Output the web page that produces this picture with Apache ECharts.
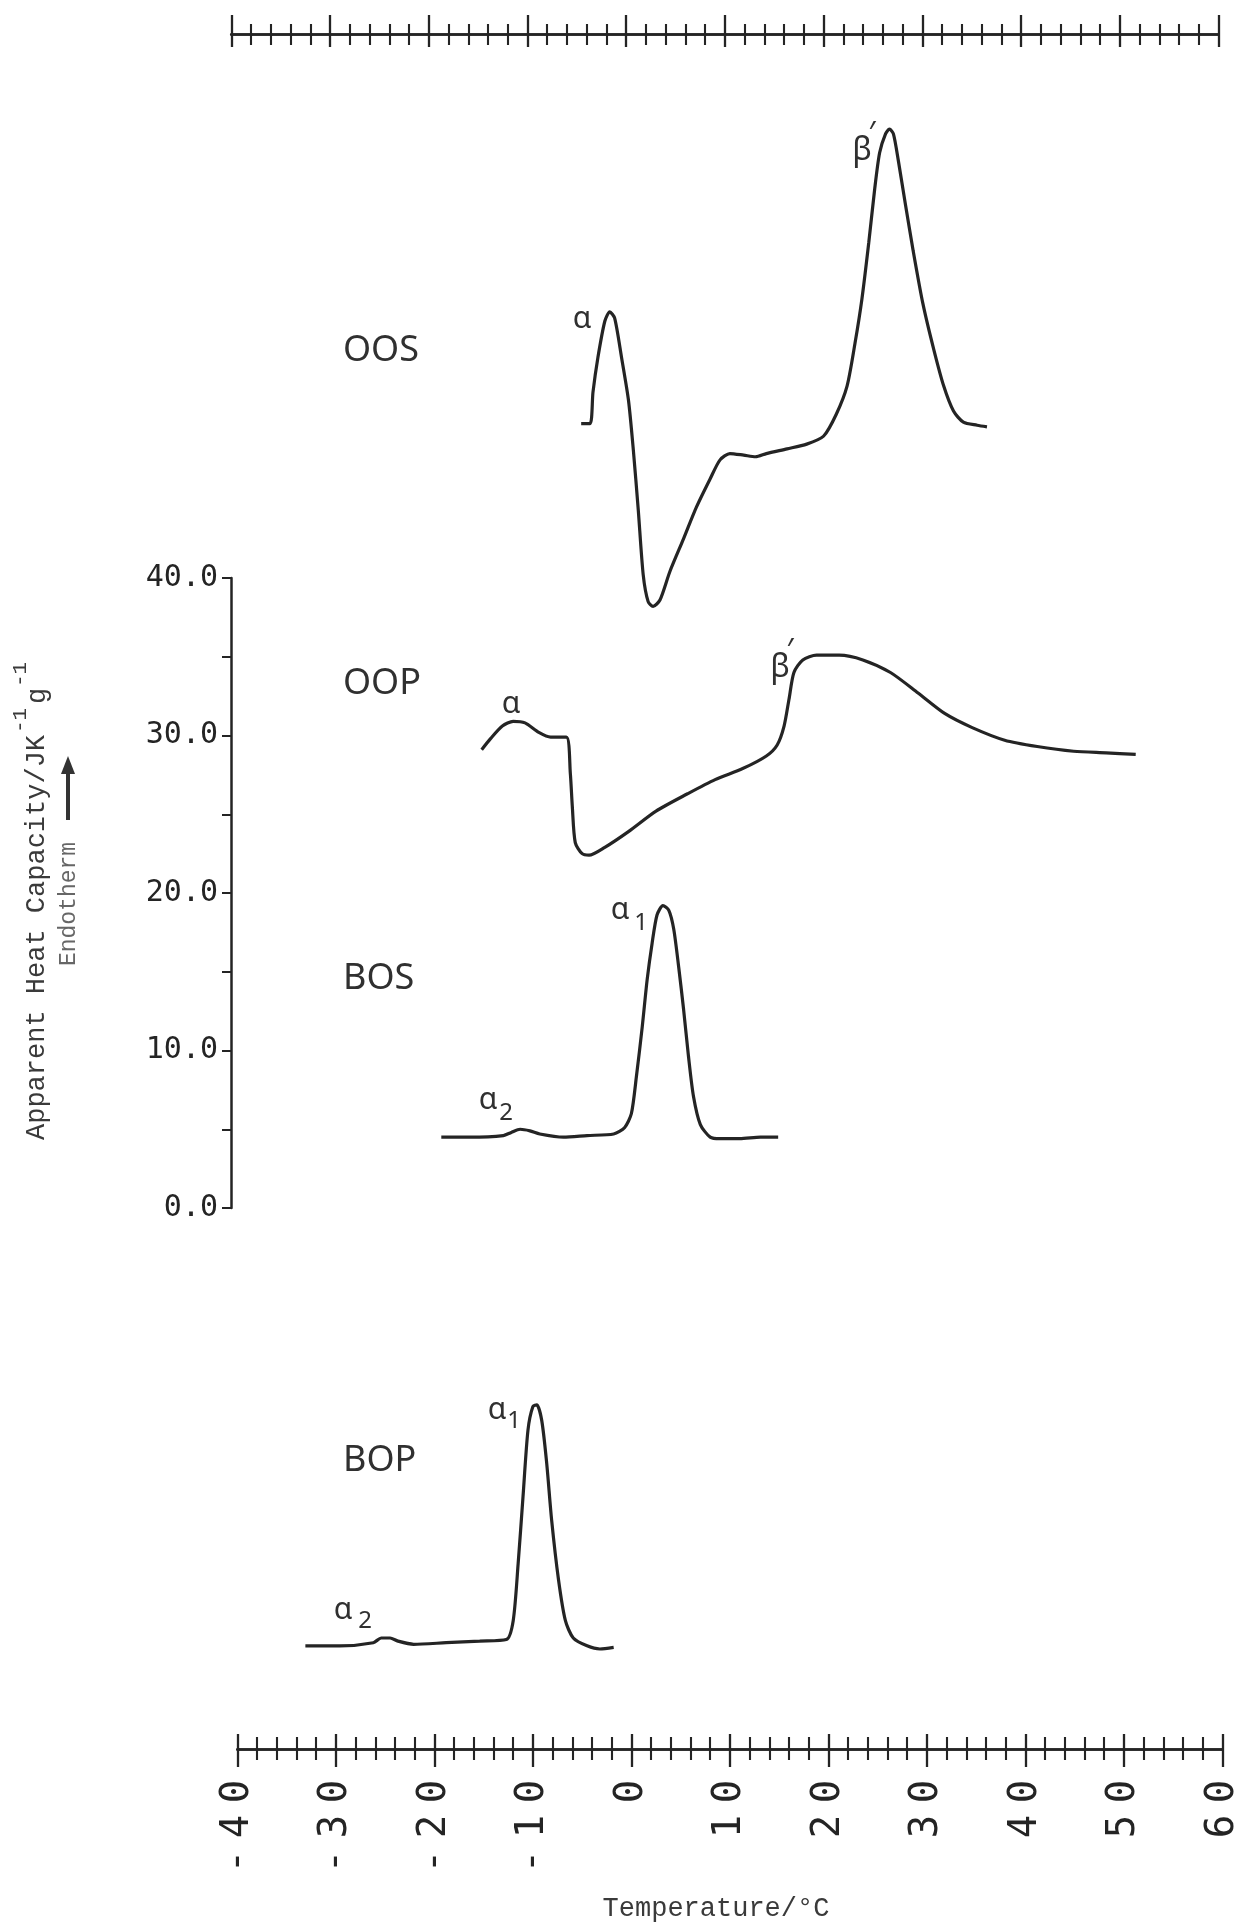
<!DOCTYPE html>
<html>
<head>
<meta charset="utf-8">
<script src="https://cdn.jsdelivr.net/npm/echarts@6/dist/echarts.min.js"></script>
<style>
  html, body { margin: 0; padding: 0; background: #ffffff; }
  #chart { width: 1244px; height: 1926px; }
</style>
</head>
<body>
<div id="chart"></div>
<script>
// Temperature scale shared by every thermogram (°C)
const tempMin = -40;
const tempMax = 60;
const tempStep = 10;
const tempTickLabels = ['-40', '-30', '-20', '-10', '0', '10', '20', '30', '40', '50', '60'];

// Apparent heat capacity scale (J K^-1 g^-1)
const cpMin = 0;
const cpMax = 40;
const cpStep = 10;
const cpTickLabels = ['0.0', '10.0', '20.0', '30.0', '40.0'];

// Thermogram names
const traceNames = ['OOS', 'OOP', 'BOS', 'BOP'];

// OOS: temperature (°C) and apparent heat capacity on the common scale
const oosTemp = [-5.1, -4.2, -3.9, -3.4, -2.7, -2.2, -1.7, -1.0, -0.3, 0.2,
  0.7, 1.2, 1.7, 2.2, 2.9, 3.9, 5.3, 6.6, 8.0, 9.0,
  10.0, 11.4, 12.6, 13.7, 15.8, 17.8, 19.5, 20.8, 21.9, 22.7,
  23.4, 24.1, 24.7, 25.2, 25.8, 26.2, 26.6, 27.1, 27.8, 28.6,
  29.6, 30.7, 31.7, 32.7, 33.7, 35.1, 36.1];
const oosCp = [49.8, 49.8, 51.8, 54.0, 56.3, 56.9, 56.5, 54.0, 51.3, 48.1,
  44.3, 40.2, 38.5, 38.2, 38.6, 40.4, 42.5, 44.5, 46.3, 47.5,
  47.9, 47.8, 47.7, 47.9, 48.2, 48.5, 49.0, 50.4, 52.2, 54.9,
  57.7, 61.3, 64.7, 67.0, 68.2, 68.5, 68.2, 66.5, 63.8, 60.8,
  57.4, 54.5, 52.2, 50.6, 49.9, 49.7, 49.6];

// OOP
const oopTemp = [-15.2, -14.3, -13.1, -12.0, -10.8, -9.4, -8.2, -6.6, -6.2, -6.0,
  -5.7, -5.0, -4.3, -2.7, -0.3, 2.5, 5.7, 8.5, 11.3, 13.7,
  14.8, 15.5, 16.0, 16.5, 17.4, 18.8, 21.1, 23.5, 26.3, 29.1,
  31.8, 34.6, 37.9, 41.2, 44.9, 48.2, 51.2];
const oopCp = [29.1, 29.8, 30.6, 30.9, 30.8, 30.2, 29.9, 29.9, 27.6, 25.5,
  23.2, 22.5, 22.4, 22.9, 23.9, 25.2, 26.3, 27.2, 27.9, 28.7,
  29.4, 30.6, 32.3, 34.0, 34.8, 35.1, 35.1, 34.8, 34.0, 32.7,
  31.4, 30.5, 29.7, 29.3, 29.0, 28.9, 28.8];

// BOS
const bosTemp = [-19.3, -16.4, -13.0, -12.2, -11.3, -10.3, -9.3, -6.9, -4.5, -1.8,
  -0.7, 0.0, 0.5, 1.1, 1.6, 2.1, 2.6, 3.2, 3.8, 4.3,
  4.8, 5.3, 5.8, 6.3, 7.0, 8.0, 9.0, 11.0, 13.1, 14.9];
const bosCp = [4.5, 4.5, 4.6, 4.8, 5.0, 4.9, 4.7, 4.5, 4.6, 4.7,
  5.1, 6.0, 8.3, 11.5, 14.5, 16.8, 18.6, 19.2, 18.9, 17.7,
  15.3, 12.6, 9.6, 7.1, 5.3, 4.5, 4.4, 4.4, 4.5, 4.5];

// BOP
const bopTemp = [-33.1, -29.6, -26.2, -25.4, -24.5, -23.7, -22.1, -18.8, -15.4, -12.7,
  -12.0, -11.5, -11.0, -10.5, -10.0, -9.6, -9.1, -8.6, -8.1, -7.4,
  -6.7, -5.9, -4.5, -3.2, -1.8];
const bopCp = [-27.8, -27.8, -27.6, -27.3, -27.3, -27.5, -27.7, -27.6, -27.5, -27.4,
  -26.2, -22.6, -18.3, -14.1, -12.6, -12.5, -13.5, -16.2, -19.8, -23.6,
  -26.2, -27.3, -27.8, -28.0, -27.9];

const ink = '#242424';
const zip = (xs, ys) => xs.map((x, i) => [x, ys[i]]);

// Ruler-style temperature axis; two of these on one line make ticks that cross it
function tempRuler(gridIndex, position, inside, majorLen, minorLen, label) {
  return {
    type: 'value', gridIndex, position,
    min: tempMin, max: tempMax, interval: tempStep,
    axisLine: { show: true, onZero: false, lineStyle: { color: ink, width: 2.5 } },
    axisTick: { show: true, inside, length: majorLen, lineStyle: { color: ink, width: 2.3 } },
    minorTick: { show: true, splitNumber: 5, length: minorLen, lineStyle: { color: ink, width: 2.1 } },
    splitLine: { show: false },
    minorSplitLine: { show: false },
    axisLabel: label || { show: false }
  };
}

const bottomLabel = {
  show: true,
  rotate: 90,
  margin: 25,
  formatter: v => {
    const s = tempTickLabels[Math.round((v - tempMin) / tempStep)];
    return s.split('').map(c => '{c|' + c + '}').join('');
  },
  rich: {
    c: { fontFamily: 'DejaVu Sans Mono', fontSize: 39, width: 35, align: 'center', color: ink }
  }
};

function traceSeries(name, temps, cps) {
  return {
    name, type: 'line', xAxisIndex: 0, yAxisIndex: 0,
    data: zip(temps, cps),
    showSymbol: false, symbol: 'none', smooth: 0.25, clip: false,
    lineStyle: { color: ink, width: 3.2 },
    emphasis: { disabled: true }
  };
}

function label(x, y, text, size, family, extra) {
  return {
    type: 'text', x, y, silent: true,
    style: Object.assign({
      text, fontSize: size, fontFamily: family, fill: '#303030',
      align: 'center', verticalAlign: 'middle'
    }, extra || {})
  };
}

const sans = 'Noto Sans';
const mono = 'Liberation Mono';
const titleInk = '#3a3a3a';

const option = {
  backgroundColor: '#ffffff',
  animation: false,
  grid: [
    // data area
    { left: 237.4, right: 21.6, top: 26.75, bottom: 166.75, containLabel: false, outerBoundsMode: 'none' },
    // bottom temperature ruler
    { left: 237.4, right: 21.6, top: 1700, bottom: 177, containLabel: false, outerBoundsMode: 'none' },
    // top temperature ruler
    { left: 231.3, right: 25.4, top: 34, height: 40, containLabel: false, outerBoundsMode: 'none' },
    // heat capacity scale
    { left: 231, width: 40, top: 578, bottom: 718, containLabel: false, outerBoundsMode: 'none' }
  ],
  xAxis: [
    { type: 'value', gridIndex: 0, min: tempMin, max: tempMax, show: false },
    tempRuler(1, 'bottom', false, 18, 11, bottomLabel),
    tempRuler(1, 'bottom', true, 15, 12),
    tempRuler(2, 'top', false, 19, 10),
    tempRuler(2, 'top', true, 13, 11),
    { type: 'value', gridIndex: 3, min: 0, max: 1, show: false }
  ],
  yAxis: [
    { type: 'value', gridIndex: 0, min: -35, max: 75, show: false },
    { type: 'value', gridIndex: 1, min: 0, max: 1, show: false },
    { type: 'value', gridIndex: 2, min: 0, max: 1, show: false },
    {
      type: 'value', gridIndex: 3, position: 'left',
      min: cpMin, max: cpMax, interval: cpStep,
      axisLine: { show: true, lineStyle: { color: ink, width: 2.5 } },
      axisTick: { show: true, length: 9, lineStyle: { color: ink, width: 2 } },
      minorTick: { show: true, splitNumber: 2, length: 9, lineStyle: { color: ink, width: 2 } },
      splitLine: { show: false },
      axisLabel: {
        margin: 13,
        formatter: v => cpTickLabels[Math.round((v - cpMin) / cpStep)],
        fontFamily: 'DejaVu Sans Mono', fontSize: 30, color: ink
      }
    }
  ],
  series: [
    traceSeries(traceNames[0], oosTemp, oosCp),
    traceSeries(traceNames[1], oopTemp, oopCp),
    traceSeries(traceNames[2], bosTemp, bosCp),
    traceSeries(traceNames[3], bopTemp, bopCp)
  ],
  graphic: [
    // sample names
    label(343, 351, traceNames[0], 36, sans, { align: 'left' }),
    label(343, 684, traceNames[1], 36, sans, { align: 'left' }),
    label(343, 979, traceNames[2], 36, sans, { align: 'left' }),
    label(343, 1461, traceNames[3], 36, sans, { align: 'left' }),

    // polymorph labels
    label(582, 319, 'α', 30, sans),
    label(862, 151, 'β', 32, sans),
    label(872, 134, '′', 30, sans),
    label(511, 704, 'α', 30, sans),
    label(780, 668, 'β', 32, sans),
    label(790, 651, '′', 30, sans),
    label(620, 910, 'α', 30, sans),
    label(641, 923, '1', 24, sans),
    label(488, 1100, 'α', 30, sans),
    label(506, 1113, '2', 24, sans),
    label(497, 1410, 'α', 30, sans),
    label(514, 1421, '1', 24, sans),
    label(343, 1610, 'α', 30, sans),
    label(365, 1621, '2', 24, sans),

    // vertical axis title, laid out along its own rotated baseline
    {
      type: 'group', x: 37, y: 1140, rotation: Math.PI / 2, silent: true,
      children: [
        { type: 'text', x: 0, y: 0, style: { text: 'Apparent Heat Capacity/JK', fontFamily: mono, fontSize: 27, fill: titleInk, align: 'left', verticalAlign: 'middle' } },
        { type: 'text', x: 407, y: -17, style: { text: '-1', fontFamily: mono, fontSize: 21, fill: titleInk, align: 'left', verticalAlign: 'middle' } },
        { type: 'text', x: 436, y: 1, style: { text: 'g', fontFamily: mono, fontSize: 27, fill: titleInk, align: 'left', verticalAlign: 'middle' } },
        { type: 'text', x: 453, y: -17, style: { text: '-1', fontFamily: mono, fontSize: 21, fill: titleInk, align: 'left', verticalAlign: 'middle' } }
      ]
    },
    {
      type: 'text', x: 69, y: 904, rotation: Math.PI / 2, silent: true,
      style: { text: 'Endotherm', fontFamily: mono, fontSize: 23, fill: '#666', align: 'center', verticalAlign: 'middle' }
    },
    {
      type: 'line', silent: true,
      shape: { x1: 68, y1: 820, x2: 68, y2: 770 },
      style: { stroke: '#333', lineWidth: 4 }
    },
    {
      type: 'polygon', silent: true,
      shape: { points: [[68, 756], [61, 774], [75, 774]] },
      style: { fill: '#333' }
    },
    {
      type: 'text', x: 716, y: 1909, silent: true,
      style: { text: 'Temperature/°C', fontFamily: mono, fontSize: 27, fill: titleInk, align: 'center', verticalAlign: 'middle' }
    }
  ]
};

const chart = echarts.init(document.getElementById('chart'), null, { renderer: 'canvas' });
chart.setOption(option);
</script>
</body>
</html>
